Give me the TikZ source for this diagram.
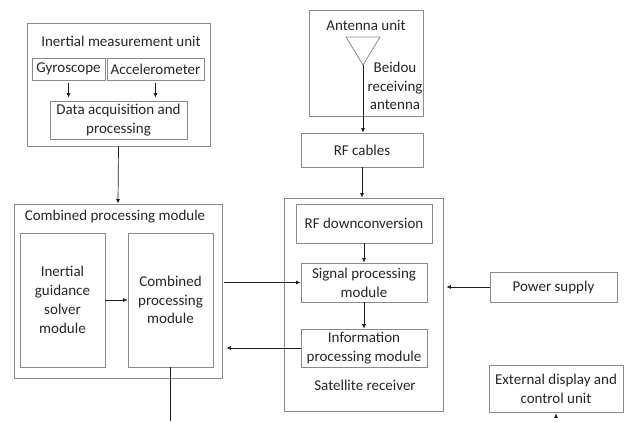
\documentclass[tikz,border=0pt]{standalone}
\usepackage{fontspec}
\setmainfont{Carlito}
\usetikzlibrary{arrows.meta, positioning, calc}
\definecolor{cbox}{HTML}{8A8A8A}
\definecolor{carr}{HTML}{1E1E1E}
\definecolor{ctext}{HTML}{262626}

\begin{document}
\begin{tikzpicture}[x=1pt, y=-1pt,
  box/.style 2 args={draw=cbox, line width=0.8pt, minimum width=#1pt, minimum height=#2pt,
              inner sep=0pt, align=center, text=ctext, font=\fontsize{15}{18.8}\selectfont},
  lbl/.style={inner sep=0pt, align=center, text=ctext, font=\fontsize{15}{18.8}\selectfont},
  arr/.style={-{Latex[length=4.5pt, width=4pt]}, line width=0.7pt, carr},
  wire/.style={line width=0.7pt, carr}
]
\useasboundingbox (0,0) rectangle (624,421);
\coordinate (edge) at (0,421);

% inertial measurement unit
\node[box={183}{123}] (imu) at (118.5,84.5) {};
\node[lbl] (imutitle) at (121,41) {Inertial measurement unit};
\node[box={73}{22}]  (gyro)  at (68.5,69)  {Gyroscope};
\node[box={97}{22}]  (accel) at (155.5,69) {Accelerometer};
\node[box={137}{38}] (daq)   at (118.5,120) {Data acquisition and\\processing};

% combined processing module
\node[box={208}{174}] (cpm) at (118,291) {};
\node[lbl] (cpmtitle) at (115,217) {Combined processing module};
\node[box={85}{134}] (igs) at (62.5,300)  {Inertial\\guidance\\solver\\module};
\node[box={85}{134}] (cpi) at (170.5,300) {Combined\\processing\\module};

% antenna unit
\node[box={114}{106}] (ant) at (366,63) {};
\node[lbl] (anttitle) at (366,25) {Antenna unit};
\draw[cbox, line width=0.8pt] (346,37) -- (380,37) -- (363,65) -- cycle;
\coordinate (apex) at (363,65);
\node[lbl] (beidou) at (395,86) {Beidou\\receiving\\antenna};
\node[box={122}{34}] (rf) at (362,150) {RF cables};

% satellite receiver
\node[box={159}{213}] (sat) at (363.5,304.5) {};
\node[box={136}{39}] (rfd) at (364,223.5) {RF downconversion};
\node[box={126}{39}] (spm) at (364,282.5) {Signal processing\\module};
\node[box={126}{38}] (ipm) at (364,348)   {Information\\processing module};
\node[lbl] (sattitle) at (365,385) {Satellite receiver};

\node[box={127}{30}] (pwr) at (553.5,287)  {Power supply};
\node[box={134}{47}] (ext) at (556,388.5) {External display and\\control unit};

\draw[arr, shorten <=3pt, shorten >=3pt] (gyro.south)  -- (gyro.south |- daq.north);
\draw[arr, shorten <=3pt, shorten >=3pt] (accel.south) -- (accel.south |- daq.north);
\draw[arr] (imu.south) -- (cpm.north);
\draw[arr] (igs.east) -- (cpi.east -| cpi.west);
\draw[arr] (apex) -- (apex |- rf.north);
\draw[arr] (rf.south) -- (rf.south |- sat.north);
\draw[arr] (rfd.south) -- (rfd.south |- spm.north);
\draw[arr] (spm.south) -- (ipm.north);
\draw[arr, shorten <=2pt] (spm.west -| cpm.east) -- (spm.west);
\draw[arr, shorten >=4pt] (ipm.west) -- (ipm.west -| cpm.east);
\draw[arr, shorten >=3pt] (pwr.west) -- (pwr.west -| sat.east);
\draw[wire] (cpi.south) -- (cpi.south |- edge);
\draw[arr, shorten <=4pt, shorten >=1pt] (ext.south |- edge) -- (ext.south);
\end{tikzpicture}
\end{document}
